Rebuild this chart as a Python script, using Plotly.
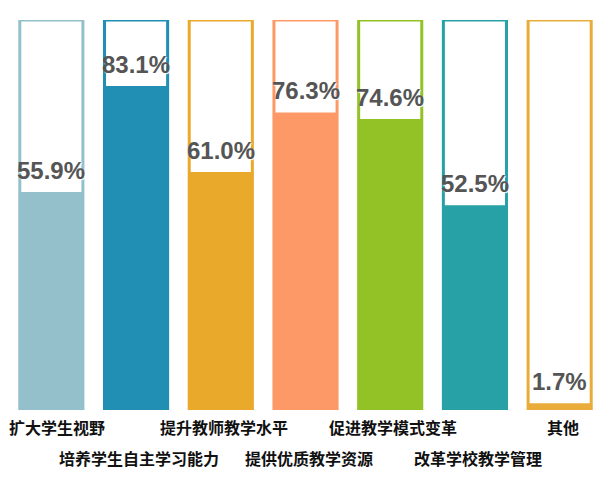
import plotly.graph_objects as go

categories = ["扩大学生视野", "培养学生自主学习能力", "提升教师教学水平", "提供优质教学资源",
              "促进教学模式变革", "改革学校教学管理", "其他"]
values = [55.9, 83.1, 61.0, 76.3, 74.6, 52.5, 1.7]
full = [100] * len(categories)
colors = ["#94C0CB", "#218EB3", "#E9A92B", "#FD9966", "#93C226", "#27A1A6", "#E9AC3A"]
label_rows = [0, 1, 0, 1, 0, 1, 0]

fig = go.Figure()
fig.add_trace(go.Bar(x=categories, y=full, width=0.745,
                     marker=dict(color="white", line=dict(color=colors, width=3)),
                     cliponaxis=False, hoverinfo="skip"))
fig.add_trace(go.Bar(x=categories, y=values, width=0.767,
                     marker=dict(color=colors, line=dict(width=0)),
                     cliponaxis=False))

for c, v in zip(categories, values):
    fig.add_annotation(x=c, xref="x", y=v, yref="y", text=f"{v:.1f}%",
                       showarrow=False, yanchor="bottom", yshift=6,
                       font=dict(family="Liberation Sans, Arial, sans-serif",
                                 size=24, color="#555555", weight="bold",
                                 shadow="1px 1px 1px white"))

for i, (c, r) in enumerate(zip(categories, label_rows)):
    fig.add_annotation(x=c, xref="x", y=-0.044 - 0.079 * r, yref="paper",
                       text=c, showarrow=False, yanchor="middle",
                       xshift=6 if i == 0 else 3,
                       font=dict(family="Noto Sans CJK SC", size=16, color="#111111", weight="bold"))

fig.update_layout(
    width=594, height=471,
    margin=dict(l=1, r=0, t=12, b=69),
    barmode="overlay", showlegend=False,
    plot_bgcolor="white", paper_bgcolor="white",
    xaxis=dict(showticklabels=False, showgrid=False, zeroline=False, range=[-0.5, 6.5]),
    yaxis=dict(range=[0, 100], showticklabels=False, showgrid=False, zeroline=False),
)
fig.write_html("out.html")
